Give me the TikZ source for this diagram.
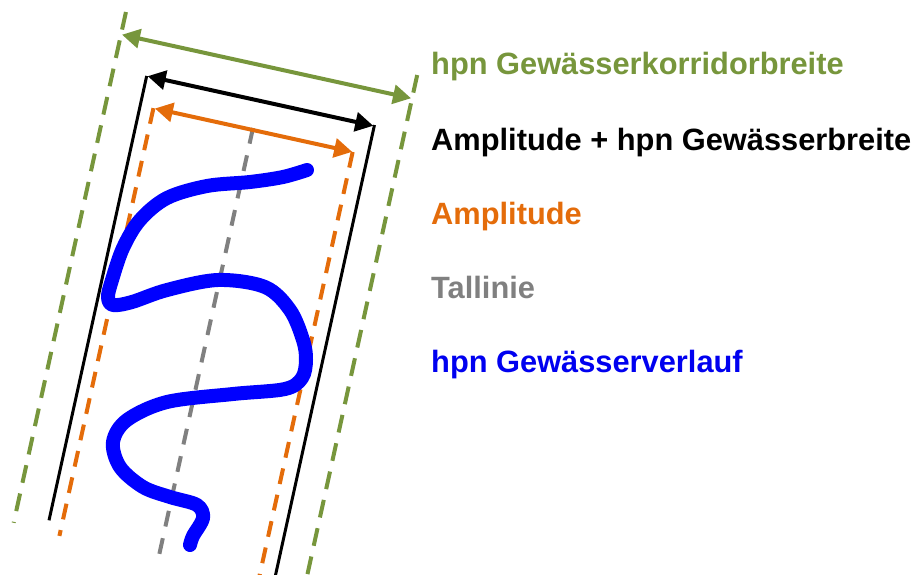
\documentclass[tikz,border=0pt]{standalone}
\usepackage{fontspec}
\setmainfont{Liberation Sans}
\usetikzlibrary{arrows.meta}
\definecolor{cgreen}{RGB}{119,150,60}
\definecolor{corange}{RGB}{228,108,10}
\definecolor{cgray}{RGB}{128,128,128}
\definecolor{cblue}{RGB}{0,0,240}
\definecolor{cline}{RGB}{0,0,255}
\begin{document}
\begin{tikzpicture}[x=1pt,y=-1pt,
  gdash/.style={cgreen, line width=4pt, dash pattern=on 18pt off 11pt},
  odash/.style={corange, line width=4pt, dash pattern=on 16pt off 11pt},
  tdash/.style={cgray, line width=4pt, dash pattern=on 16pt off 12pt},
  bline/.style={black, line width=3pt},
  dimarrow/.style={line width=4pt, {Triangle[length=18pt,width=19pt]}-{Triangle[length=18pt,width=19pt]}},
  legend/.style={anchor=base west, inner sep=0pt, font=\bfseries\fontsize{30.8}{36}\selectfont}]
\useasboundingbox (0,0) rectangle (912,575);
\clip (0,0) rectangle (912,575);
\begin{scope}[shift={(253,128)}, rotate=-12.4]
  % green corridor
  \draw[gdash] (-149,-86) -- (-149,437);
  \draw[gdash] (149,-87) -- (149,470);
  % black
  \draw[bline] (-115,-28) -- (-115,427);
  \draw[bline] (118,-29) -- (118,470);
  % orange
  \draw[odash] (-101.5,2) -- (-101.5,440);
  \draw[odash] (102.5,2) -- (102.5,470);
  % gray valley line
  \draw[tdash] (0,0) -- (0,437);
  % arrow end points
  \coordinate (gl) at (-148,-63);
  \coordinate (gr) at (148,-63);
  \coordinate (bl) at (-114,-28);
  \coordinate (br) at (117,-28);
  \coordinate (ol) at (-100,2);
  \coordinate (or) at (102,2);
  \draw[dimarrow, cgreen] (gl) -- (gr);
  \draw[dimarrow, black] (bl) -- (br);
  \draw[dimarrow, corange] (ol) -- (or);
\end{scope}
% river course
\draw[cline, line width=14pt, line cap=round, line join=round]
  plot[smooth, tension=0.55] coordinates {
  (307,170) (283,177) (250,182) (207,186) (167,198) (140,220) (123,248)
  (112,280) (108,297) (113,305) (132,302) (167,290) (218,280) (265,287)
  (290,310) (303,340) (306,360) (302,378) (285,389) (233,394) (167,402)
  (127,420) (113,442) (120,467) (143,487) (170,497) (197,505) (203,518)
  (193,536) (190,545)};
% legend
\node[legend, text=cgreen] (t1) at (431,75) {hpn Gewässerkorridorbreite};
\node[legend, text=black] (t2) at (431,150) {Amplitude + hpn Gewässerbreite};
\node[legend, text=corange] (t3) at (431,224) {Amplitude};
\node[legend, text=cgray] (t4) at (431,298) {Tallinie};
\node[legend, text=cblue] (t5) at (431,372) {hpn Gewässerverlauf};
\end{tikzpicture}
\end{document}
